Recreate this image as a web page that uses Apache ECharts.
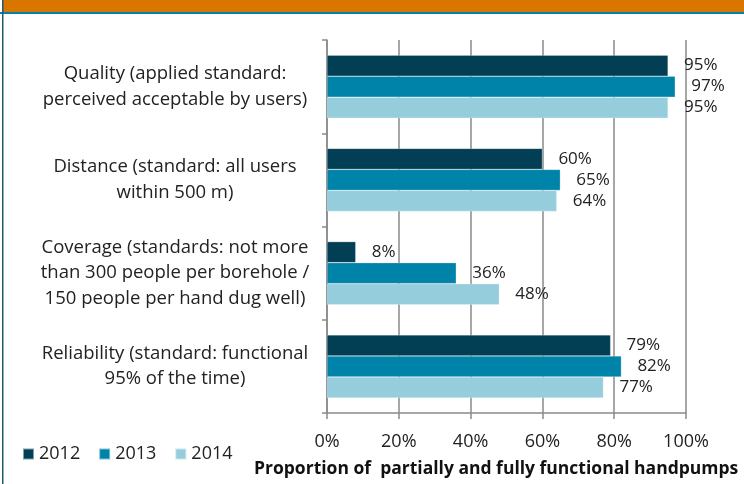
<!DOCTYPE html>
<html>
<head>
<meta charset="utf-8">
<script src="https://cdn.jsdelivr.net/npm/echarts@6/dist/echarts.min.js"></script>
<style>
  html, body { margin: 0; padding: 0; background: #fff; }
  #chart { width: 744px; height: 484px; }
</style>
</head>
<body>
<div id="chart"></div>
<script>
// categories, top to bottom
const categories = [
  'Quality (applied standard:\nperceived acceptable by users)',
  'Distance (standard: all users\nwithin 500 m)',
  'Coverage (standards: not more\nthan 300 people per borehole /\n150 people per hand dug well)',
  'Reliability (standard: functional\n95% of the time)'
];
const years = ['2012', '2013', '2014'];
const values2012 = [95, 60, 8, 79];
const values2013 = [97, 65, 36, 82];
const values2014 = [95, 64, 48, 77];
const xTicks = [0, 20, 40, 60, 80, 100];
const axisTitle = 'Proportion of  partially and fully functional handpumps';

const colors = ['#023f55', '#0083a9', '#95cddd'];
const font = "'Open Sans', sans-serif";

const chart = echarts.init(document.getElementById('chart'));

const seriesData = [values2012, values2013, values2014];

chart.setOption({
  animation: false,
  textStyle: { fontFamily: font },
  color: colors,
  title: {
    text: axisTitle,
    left: 254,
    top: 460,
    padding: 0,
    textStyle: { fontFamily: font, fontSize: 17.5, fontWeight: 'bold', color: '#111' }
  },
  legend: {
    data: years,
    left: 22,
    top: 445,
    padding: 0,
    icon: 'rect',
    itemWidth: 11,
    itemHeight: 11,
    itemGap: 18,
    textStyle: { fontFamily: font, fontSize: 18, color: '#222' }
  },
  grid: { left: 327, right: 58, top: 40, bottom: 71 },
  xAxis: {
    type: 'value',
    min: xTicks[0],
    max: xTicks[xTicks.length - 1],
    interval: 20,
    axisLine: { show: true, lineStyle: { color: '#8a8a8a', width: 1.5 } },
    axisTick: { show: true, length: 6, lineStyle: { color: '#8a8a8a', width: 1.5 } },
    splitLine: { show: true, lineStyle: { color: '#8a8a8a', width: 1.5 } },
    axisLabel: {
      margin: 20,
      fontFamily: font,
      fontSize: 18,
      color: '#222',
      formatter: v => v + '%'
    }
  },
  yAxis: {
    type: 'category',
    inverse: true,
    data: categories,
    axisLine: { show: true, lineStyle: { color: '#8a8a8a', width: 1.5 } },
    axisTick: { show: true, length: 5, lineStyle: { color: '#8a8a8a', width: 1.5 } },
    axisLabel: {
      margin: 152,
      align: 'center',
      fontFamily: font,
      fontSize: 18.5,
      lineHeight: 25.5,
      color: '#222'
    }
  },
  graphic: [
    { type: 'rect', shape: { x: 3, y: 0, width: 741, height: 12 }, style: { fill: '#d87600' }, silent: true },
    { type: 'rect', shape: { x: 0, y: 12, width: 744, height: 2 }, style: { fill: '#0083a9' }, silent: true },
    { type: 'rect', shape: { x: 2, y: 0, width: 1.5, height: 484 }, style: { fill: '#1d5a72' }, silent: true }
  ],
  series: years.map((y, i) => ({
    name: y,
    type: 'bar',
    data: seriesData[i],
    barWidth: 21,
    barGap: '0%',
    itemStyle: { color: colors[i], borderColor: 'rgba(255,255,255,0.5)', borderWidth: 0.5 },
    label: {
      show: true,
      position: 'right',
      distance: 16,
      fontFamily: font,
      fontSize: 17,
      color: '#222',
      formatter: p => p.value + '%'
    }
  }))
});
</script>
</body>
</html>
